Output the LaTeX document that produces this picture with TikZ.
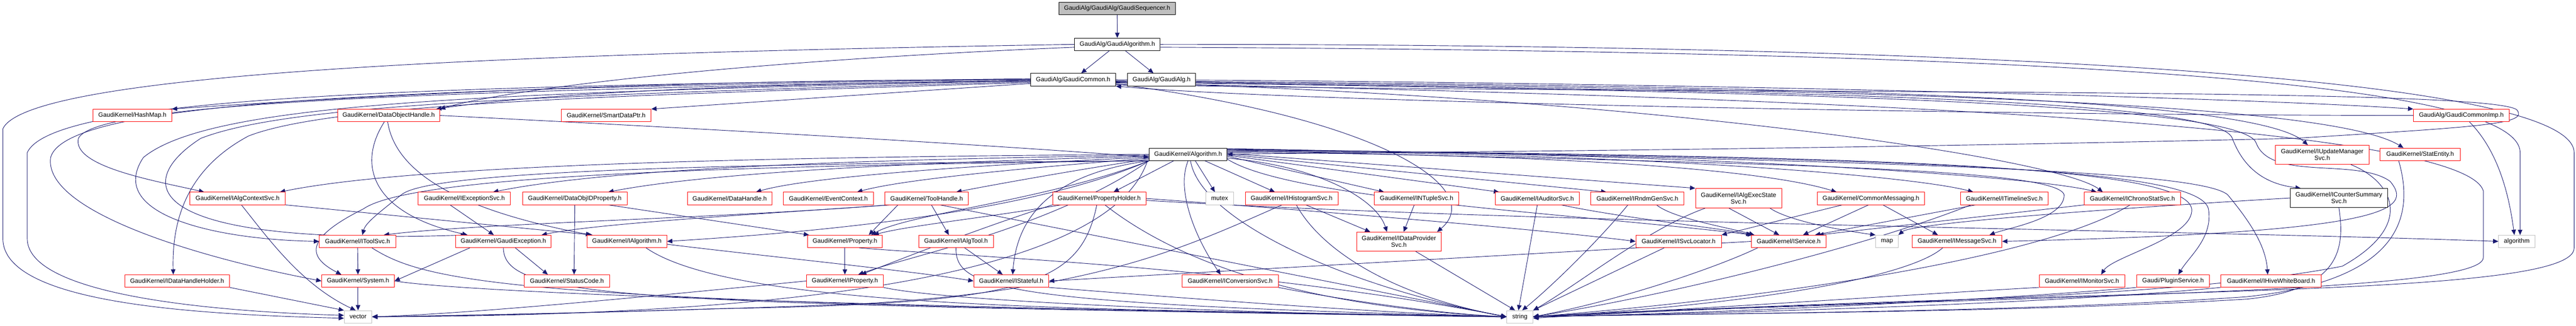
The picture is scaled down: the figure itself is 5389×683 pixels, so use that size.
\documentclass[tikz,border=0pt]{standalone}
\usepackage{fontspec}
\setmainfont{Liberation Sans}
\usetikzlibrary{arrows.meta,backgrounds}
\definecolor{edgeblue}{HTML}{191970}
\definecolor{sysgray}{HTML}{BFBFBF}
\tikzset{
  box/.style={rectangle, fill=white, inner sep=0pt, minimum height=26pt, line width=1pt,
    align=center, font=\fontsize{13}{14}\selectfont},
  hdr/.style={box, draw=red},
  doc/.style={box, draw=black},
  sys/.style={box, draw=sysgray},
  edge/.style={draw=edgeblue, line width=1pt, -{Triangle[length=11pt,width=9.5pt]}}
}
\begin{document}
\begin{tikzpicture}[x=1pt,y=-1pt]
    \useasboundingbox (0,0) rectangle (5389,683);

    % top of the include chain
    \node[doc, fill=sysgray, minimum width=243pt] (seq) at (2337,18) {GaudiAlg/GaudiAlg/GaudiSequencer.h};
    \node[doc, minimum width=179pt] (galgo) at (2337.5,93) {GaudiAlg/GaudiAlgorithm.h};
    \node[doc, minimum width=178pt] (gcommon) at (2245,167) {GaudiAlg/GaudiCommon.h};
    \node[doc, minimum width=143pt] (galg) at (2430,167) {GaudiAlg/GaudiAlg.h};
    \node[doc, minimum width=163pt] (algorithm) at (2485.5,323.5) {GaudiKernel/Algorithm.h};

    % second row
    \node[hdr, minimum width=164pt] (hashmap) at (277,242) {GaudiKernel/HashMap.h};
    \node[hdr, minimum width=214pt] (dohandle) at (813,242) {GaudiKernel/DataObjectHandle.h};
    \node[hdr, minimum width=188pt] (smartptr) at (1268,242) {GaudiKernel/SmartDataPtr.h};
    \node[hdr, minimum width=200pt] (gcimp) at (5149,242) {GaudiAlg/GaudiCommonImp.h};
    \node[hdr, minimum width=196pt, minimum height=40pt] (iupdate) at (4858,324.5) {GaudiKernel/IUpdateManager\\Svc.h};
    \node[hdr, minimum width=168pt] (statentity) at (5063,323.5) {GaudiKernel/StatEntity.h};

    % third row
    \node[hdr, minimum width=200pt] (ialgctx) at (497,416) {GaudiKernel/IAlgContextSvc.h};
    \node[hdr, minimum width=193pt] (iexc) at (971.5,416) {GaudiKernel/IExceptionSvc.h};
    \node[hdr, minimum width=219pt] (dataobjid) at (1202.5,416) {GaudiKernel/DataObjIDProperty.h};
    \node[hdr, minimum width=177pt] (datahandle) at (1526.5,416) {GaudiKernel/DataHandle.h};
    \node[hdr, minimum width=188pt] (eventctx) at (1733,416) {GaudiKernel/EventContext.h};
    \node[hdr, minimum width=175pt] (toolhandle) at (1938.5,416) {GaudiKernel/ToolHandle.h};
    \node[hdr, minimum width=195pt] (propholder) at (2299.5,416) {GaudiKernel/PropertyHolder.h};
    \node[sys, minimum width=59pt] (mutex) at (2551.5,416) {mutex};
    \node[hdr, minimum width=194pt] (ihisto) at (2702,416) {GaudiKernel/IHistogramSvc.h};
    \node[hdr, minimum width=177pt] (intuple) at (2963.5,416) {GaudiKernel/INTupleSvc.h};
    \node[hdr, minimum width=176pt] (iauditor) at (3216,416) {GaudiKernel/IAuditorSvc.h};
    \node[hdr, minimum width=195pt] (irndm) at (3425.5,416) {GaudiKernel/IRndmGenSvc.h};
    \node[hdr, minimum width=180pt, minimum height=41pt] (iexecstate) at (3637,415.5) {GaudiKernel/IAlgExecState\\Svc.h};
    \node[hdr, minimum width=224pt] (commonmsg) at (3914,416) {GaudiKernel/CommonMessaging.h};
    \node[hdr, minimum width=184pt] (itimeline) at (4193,416) {GaudiKernel/ITimelineSvc.h};
    \node[hdr, minimum width=201pt] (ichrono) at (4461,416) {GaudiKernel/IChronoStatSvc.h};
    \node[doc, minimum width=204pt, minimum height=40pt] (icounter) at (4893,415) {GaudiKernel/ICounterSummary\\Svc.h};

    % fourth row
    \node[hdr, minimum width=160pt] (itoolsvc) at (748,506) {GaudiKernel/IToolSvc.h};
    \node[hdr, minimum width=200pt] (gexc) at (1053,506) {GaudiKernel/GaudiException.h};
    \node[hdr, minimum width=167pt] (ialgorithm) at (1311.5,506) {GaudiKernel/IAlgorithm.h};
    \node[hdr, minimum width=157pt] (property) at (1767.5,506) {GaudiKernel/Property.h};
    \node[hdr, minimum width=156pt] (ialgtool) at (2000,506) {GaudiKernel/IAlgTool.h};
    \node[hdr, minimum width=177pt, minimum height=40pt] (idataprov) at (2926.5,506.5) {GaudiKernel/IDataProvider\\Svc.h};
    \node[hdr, minimum width=179pt] (isvcloc) at (3511.5,506) {GaudiKernel/ISvcLocator.h};
    \node[hdr, minimum width=156pt] (iservice) at (3742,506) {GaudiKernel/IService.h};
    \node[sys, minimum width=47pt] (map) at (3947.5,506) {map};
    \node[hdr, minimum width=188pt] (imsgsvc) at (4094,506) {GaudiKernel/IMessageSvc.h};
    \node[sys, minimum width=76pt] (algo) at (5265,506) {algorithm};

    % fifth row
    \node[hdr, minimum width=219pt] (idhholder) at (370.5,589) {GaudiKernel/IDataHandleHolder.h};
    \node[hdr, minimum width=152pt] (system) at (749,589) {GaudiKernel/System.h};
    \node[hdr, minimum width=178pt] (statuscode) at (1186,589) {GaudiKernel/StatusCode.h};
    \node[hdr, minimum width=161pt] (iproperty) at (1767.5,589) {GaudiKernel/IProperty.h};
    \node[hdr, minimum width=157pt] (istateful) at (2115.5,589) {GaudiKernel/IStateful.h};
    \node[hdr, minimum width=201pt] (iconv) at (2573.5,589) {GaudiKernel/IConversionSvc.h};
    \node[hdr, minimum width=179pt] (imonitor) at (4355.5,589) {GaudiKernel/IMonitorSvc.h};
    \node[hdr, minimum width=152pt] (plugin) at (4546,589) {Gaudi/PluginService.h};
    \node[hdr, minimum width=210pt] (ihive) at (4751,589) {GaudiKernel/IHiveWhiteBoard.h};

    % system headers
    \node[sys, minimum width=58pt] (vector) at (749,664) {vector};
    \node[sys, minimum width=55pt] (string) at (3179.5,664) {string};

    \begin{pgfonlayer}{background}
    \fill[white] (0,0) rectangle (5389,683);

    % GaudiSequencer / GaudiAlgorithm
    \draw[edge] (seq) -- (galgo);
    \draw[edge] (galgo) -- (gcommon);
    \draw[edge] (galgo) -- (galg);
    \draw[edge] (galgo.west) .. controls (1100,112) and (60,150) .. (6,270) -- (6,500) .. controls (6,635) and (400,659) .. ([yshift=-3pt]vector.west);
    \draw[edge] ([yshift=-6pt]galgo.west) .. controls (1500,130) and (1050,190) .. (dohandle.north east);
    \draw[edge] (galgo.east) .. controls (3800,92) and (5385,140) .. (5385,320) -- (5385,520) .. controls (5385,630) and (4300,600) .. ([yshift=-3pt]string.east);
    \draw[edge] ([yshift=-6pt]galgo.east) .. controls (4300,108) and (5272,170) .. (5272,320) -- ([xshift=7pt]algo.north);

    % GaudiCommon, to the left
    \draw[edge] (gcommon.west) .. controls (1400,165) and (700,205) .. (hashmap.north east);
    \draw[edge] ([yshift=-3pt]gcommon.west) .. controls (1500,175) and (1100,200) .. ([xshift=-8pt]dohandle.north east);
    \draw[edge] ([yshift=-8pt]gcommon.west) -- (smartptr.north east);
    \draw[edge] ([yshift=2pt]gcommon.west) .. controls (900,180) and (110,200) .. (57,320) -- (57,500) .. controls (57,615) and (420,652) .. ([yshift=3pt]vector.west);
    \draw[edge] ([yshift=1pt]gcommon.west) .. controls (900,185) and (140,205) .. (106,330) .. controls (90,440) and (400,537) .. (system.west);
    \draw[edge] ([yshift=-1pt]gcommon.west) .. controls (900,190) and (200,215) .. (164,290) .. controls (150,350) and (330,380) .. ([xshift=-70pt]ialgctx.north);
    \draw[edge] ([yshift=-2pt]gcommon.west) .. controls (1000,195) and (440,215) .. (300,330) .. controls (220,450) and (450,502) .. (itoolsvc.west);
    \draw[edge] ([yshift=-4pt]gcommon.west) .. controls (1100,200) and (600,220) .. (420,290) .. controls (280,380) and (280,517) .. ([xshift=-78pt]gexc.north);
    \draw[edge] ([yshift=-6pt]gcommon.west) .. controls (1300,200) and (700,215) .. (520,285) .. controls (380,360) and (360,477) .. ([xshift=-8pt]idhholder.north);

    % GaudiCommon, to the right
    \draw[edge] (gcommon.east) .. controls (3500,172) and (4700,205) .. (gcimp.north west);
    \draw[edge] ([yshift=-2pt]gcommon.east) .. controls (3500,180) and (4700,190) .. ([xshift=-30pt]iupdate.north);
    \draw[edge] ([yshift=-3pt]gcommon.east) .. controls (3600,185) and (4850,200) .. ([xshift=-35pt]statentity.north);
    \draw[edge] ([yshift=-4pt]gcommon.east) .. controls (3600,190) and (4640,200) .. (4670,290) .. controls (4700,370) and (4760,388) .. ([xshift=-80pt]icounter.north);
    \draw[edge] ([yshift=-5pt]gcommon.east) .. controls (3600,190) and (4690,210) .. (4720,300) .. controls (4750,380) and (4930,330) .. (5000,380) .. controls (5050,440) and (5000,487) .. (imsgsvc.east);
    \draw[edge] ([yshift=-6pt]gcommon.east) .. controls (3400,200) and (4300,328) .. ([xshift=-62pt]ichrono.north);
    \draw[edge] ([yshift=-7pt]gcommon.east) .. controls (3600,200) and (5150,250) .. (5195,400) -- (5195,540) .. controls (5195,618) and (4200,618) .. (string.east);
    \draw[edge] ([yshift=-9pt]gcommon.east) .. controls (2900,250) and (3110,398) .. ([xshift=80pt]idataprov.north);
    \draw[edge] ([yshift=-10pt]gcommon.east) .. controls (3500,200) and (5200,180) .. (5265,230) .. controls (5290,260) and (5200,265) .. (4800,290) .. controls (3600,318) and (2700,320) .. (algorithm.east);

    % GaudiCommonImp, IUpdateManagerSvc, StatEntity, ICounterSummarySvc
    \draw[edge] ([xshift=17pt]gcimp.south) .. controls (5230,320) and (5250,418) .. ([xshift=-5pt]algo.north);
    \draw[edge] (gcimp.west) .. controls (4200,242) and (2700,214) .. (gcommon.south east);
    \draw[edge] ([xshift=60pt]iupdate.south) .. controls (5000,378) and (5060,468) .. (4900,558) .. controls (4500,637) and (3600,637) .. (string.east);
    \draw[edge] ([xshift=-45pt]statentity.south) .. controls (5050,448) and (5030,587) .. (4700,622) .. controls (4200,657) and (3500,657) .. (string.east);
    \draw[edge] (icounter.south) .. controls (4905,518) and (4900,607) .. (4700,627) .. controls (4200,657) and (3500,657) .. (string.east);
    \draw[edge] (icounter.west) .. controls (4400,438) and (4000,468) .. (map.north east);

    % Algorithm, to the left
    \draw[edge] (algorithm.west) .. controls (1800,328) and (900,338) .. ([xshift=-12pt]ialgctx.north east);
    \draw[edge] ([yshift=-2pt]algorithm.west) .. controls (1900,333) and (1300,348) .. ([xshift=60pt]iexc.north);
    \draw[edge] ([yshift=-4pt]algorithm.west) .. controls (2000,338) and (1500,358) .. ([xshift=70pt]dataobjid.north);
    \draw[edge] ([yshift=-6pt]algorithm.west) .. controls (2100,343) and (1700,368) .. ([xshift=55pt]datahandle.north);
    \draw[edge] ([yshift=-8pt]algorithm.west) .. controls (2200,348) and (1900,373) .. ([xshift=60pt]eventctx.north);
    \draw[edge] ([yshift=-10pt]algorithm.west) .. controls (2300,348) and (2100,383) .. ([xshift=62pt]toolhandle.north);
    \draw[edge] (algorithm.south west) .. controls (1500,343) and (900,358) .. (840,408) .. controls (790,448) and (765,467) .. ([xshift=10pt]itoolsvc.north);
    \draw[edge] (algorithm.south west) .. controls (1500,348) and (860,368) .. (760,438) .. controls (640,498) and (640,537) .. ([xshift=-35pt]system.north);
    \draw[edge] (algorithm.south west) .. controls (2150,448) and (1700,487) .. (ialgorithm.east);
    \draw[edge] (algorithm.south west) .. controls (2200,418) and (1900,448) .. ([xshift=55pt]property.north);
    \draw[edge] (algorithm.south west) .. controls (2200,478) and (1900,537) .. ([xshift=28pt]iproperty.north);
    \draw[edge] (algorithm.south west) .. controls (2250,358) and (2130,418) .. ([xshift=3pt]istateful.north);
    \draw[edge] ([xshift=-30pt]algorithm.south) -- ([xshift=30pt]propholder.north);
    \draw[edge] ([xshift=-3pt]algorithm.south west) .. controls (2300,637) and (1300,662) .. (vector.east);

    % Algorithm, downwards and to the right
    \draw[edge] ([xshift=15pt]algorithm.south) -- ([xshift=-10pt]mutex.north);
    \draw[edge] ([xshift=35pt]algorithm.south) -- ([xshift=-35pt]ihisto.north);
    \draw[edge] (algorithm.south) .. controls (2460,398) and (2500,498) .. ([xshift=-20pt]iconv.north);
    \draw[edge] ([xshift=5pt]algorithm.south) .. controls (2510,458) and (2800,597) .. (string.west);
    \draw[edge] ([yshift=-4pt]algorithm.east) -- ([xshift=-68pt]intuple.north);
    \draw[edge] ([yshift=-2pt]algorithm.east) -- ([xshift=-80pt]iauditor.north);
    \draw[edge] (algorithm.east) -- ([xshift=-65pt]irndm.north);
    \draw[edge] ([yshift=2pt]algorithm.east) -- (iexecstate.north west);
    \draw[edge] ([yshift=4pt]algorithm.east) .. controls (3300,323) and (3700,358) .. ([xshift=-72pt]commonmsg.north);
    \draw[edge] ([yshift=6pt]algorithm.east) .. controls (3400,318) and (4000,368) .. ([xshift=-65pt]itimeline.north);
    \draw[edge] ([yshift=8pt]algorithm.east) .. controls (3500,318) and (4250,368) .. ([xshift=-75pt]ichrono.north);
    \draw[edge] ([yshift=-8pt]algorithm.east) .. controls (2760,348) and (2880,418) .. ([xshift=-25pt]idataprov.north);
    \draw[edge] ([yshift=-10pt]algorithm.east) .. controls (2700,418) and (3300,448) .. ([xshift=-75pt]iservice.north);
    \draw[edge] ([yshift=9pt]algorithm.east) .. controls (3600,343) and (4300,348) .. (4318,408) .. controls (4320,458) and (4200,478) .. ([xshift=68pt]imsgsvc.north);
    \draw[edge] ([yshift=10pt]algorithm.east) .. controls (3800,328) and (4570,338) .. (4585,438) .. controls (4590,498) and (4420,537) .. ([xshift=40pt]imonitor.north);
    \draw[edge] ([yshift=11pt]algorithm.east) .. controls (3900,333) and (4600,343) .. (4620,438) .. controls (4630,498) and (4580,537) .. ([xshift=11pt]plugin.north);
    \draw[edge] ([yshift=12pt]algorithm.east) .. controls (4000,338) and (4600,358) .. (4660,408) .. controls (4710,468) and (4740,517) .. ([xshift=-7pt]ihive.north);

    % DataObjectHandle
    \draw[edge] (dohandle.east) .. controls (1300,261) and (2000,298) .. ([yshift=-6pt]algorithm.west);
    \draw[edge] ([xshift=-9pt]dohandle.south) .. controls (745,348) and (780,448) .. ([xshift=-75pt]gexc.north);
    \draw[edge] ([xshift=-2pt]dohandle.south) .. controls (830,378) and (1000,448) .. ([xshift=-75pt]ialgorithm.north);

    % third row, left part
    \draw[edge] ([xshift=8pt]ialgctx.south) .. controls (560,498) and (630,597) .. ([xshift=-5pt]vector.north);
    \draw[edge] (ialgctx.south east) -- ([xshift=-72pt]ialgorithm.north);
    \draw[edge] ([xshift=-30pt]iexc.south) -- ([xshift=-20pt]gexc.north);
    \draw[edge] (dataobjid.south) -- ([xshift=15pt]statuscode.north);
    \draw[edge] ([xshift=70pt]dataobjid.south) -- ([xshift=-75pt]property.north);
    \draw[edge] ([xshift=10pt]toolhandle.south) -- ([xshift=-15pt]ialgtool.north);
    \draw[edge] ([xshift=-60pt]toolhandle.south) -- ([xshift=50pt]property.north);
    \draw[edge] ([xshift=-80pt]toolhandle.south) .. controls (1500,458) and (1000,468) .. ([xshift=55pt]itoolsvc.north);
    \draw[edge] ([xshift=-75pt]toolhandle.south) .. controls (1600,448) and (1250,468) .. ([xshift=80pt]gexc.north);
    \draw[edge] ([xshift=28pt]toolhandle.south) -- (string.west);
    \draw[edge] ([xshift=-80pt]propholder.south) .. controls (2050,458) and (1900,473) .. ([xshift=60pt]property.north);
    \draw[edge] (propholder.south west) .. controls (2050,478) and (1900,537) .. ([xshift=34pt]iproperty.north);
    \draw[edge] ([xshift=-5pt]propholder.south) .. controls (2260,597) and (2150,637) .. (1500,647) .. controls (1200,657) and (900,662) .. (vector.east);
    \draw[edge] ([xshift=12pt]propholder.south) .. controls (2500,577) and (2800,647) .. (string.west);
    \draw[edge] (propholder.east) .. controls (2700,438) and (3200,478) .. (isvcloc.west);
    \draw[edge] ([yshift=-4pt]propholder.east) .. controls (3200,468) and (4600,483) .. (algo.west);

    % third row, right part
    \draw[edge] ([xshift=30pt]ihisto.south) -- ([xshift=-60pt]idataprov.north);
    \draw[edge] ([xshift=10pt]ihisto.south) .. controls (2760,518) and (2900,617) .. (string.west);
    \draw[edge] ([xshift=-20pt]ihisto.south) .. controls (2480,518) and (2300,607) .. (1800,637) .. controls (1400,652) and (1000,662) .. (vector.east);
    \draw[edge] ([xshift=-5pt]intuple.south) -- ([xshift=10pt]idataprov.north);
    \draw[edge] (iauditor.south) -- ([xshift=-3pt]string.north);
    \draw[edge] ([xshift=50pt]iauditor.south) .. controls (3400,458) and (3600,478) .. ([xshift=-78pt]iservice.north);
    \draw[edge] ([xshift=-20pt]irndm.south) .. controls (3350,498) and (3250,597) .. ([xshift=5pt]string.north);
    \draw[edge] ([xshift=40pt]irndm.south) .. controls (3500,458) and (3620,478) .. ([xshift=-72pt]iservice.north);
    \draw[edge] ([xshift=-70pt]iexecstate.south) .. controls (3450,478) and (3300,597) .. (string.north east);
    \draw[edge] ([xshift=66pt]iexecstate.south) .. controls (3750,468) and (3890,488) .. (map.north west);
    \draw[edge] ([xshift=-20pt]iexecstate.south) -- ([xshift=-20pt]iservice.north);
    \draw[edge] ([xshift=-5pt]commonmsg.south) -- ([xshift=30pt]iservice.north);
    \draw[edge] ([xshift=25pt]commonmsg.south) -- ([xshift=-40pt]imsgsvc.north);
    \draw[edge] ([xshift=-60pt]commonmsg.south) -- (isvcloc.north east);
    \draw[edge] ([xshift=-60pt]itimeline.south) -- ([xshift=55pt]iservice.north);
    \draw[edge] ([xshift=-70pt]itimeline.south) .. controls (3900,518) and (3500,617) .. (string.east);
    \draw[edge] (ichrono.south west) -- ([xshift=62pt]iservice.north);
    \draw[edge] ([xshift=-5pt]ichrono.south) .. controls (4300,528) and (3800,617) .. (string.east);

    % fourth row
    \draw[edge] (itoolsvc) -- (system);
    \draw[edge] ([xshift=30pt]itoolsvc.south) .. controls (900,597) and (1100,637) .. (string.west);
    \draw[edge] ([xshift=25pt]gexc.south) -- ([xshift=-40pt]statuscode.north);
    \draw[edge] ([xshift=-70pt]gexc.south) -- (system.east);
    \draw[edge] (gexc.south) .. controls (1055,627) and (1300,637) .. (string.west);
    \draw[edge] ([yshift=-6pt]ialgorithm.east) .. controls (1600,537) and (1900,567) .. (istateful.west);
    \draw[edge] ([xshift=40pt]ialgorithm.south) .. controls (1550,657) and (2400,647) .. (string.west);
    \draw[edge] (property) -- (iproperty);
    \draw[edge] ([xshift=30pt]property.south) .. controls (2000,537) and (2600,557) .. (string.west);
    \draw[edge] ([xshift=18pt]ialgtool.south) -- ([xshift=-18pt]istateful.north);
    \draw[edge] (ialgtool.south) .. controls (1998,607) and (2100,637) .. (string.west);
    \draw[edge] ([xshift=35pt]idataprov.south) -- ([xshift=-10pt]string.north);
    \draw[edge] ([xshift=-30pt]isvcloc.south) -- (string.north east);
    \draw[edge] (iservice.west) -- (istateful.east);
    \draw[edge] ([xshift=-65pt]iservice.south) .. controls (3600,557) and (3400,627) .. (string.east);
    \draw[edge] ([xshift=-30pt]imsgsvc.south) .. controls (4000,577) and (3700,637) .. (string.east);

    % fifth row
    \draw[edge] (idhholder.south east) -- (vector.north west);
    \draw[edge] (system) -- (vector);
    \draw[edge] (system.east) .. controls (1000,617) and (2000,647) .. (string.west);
    \draw[edge] (iproperty.west) .. controls (1400,617) and (1000,657) .. (vector.east);
    \draw[edge] (iproperty.south east) .. controls (2000,637) and (2800,662) .. (string.west);
    \draw[edge] (istateful.south east) .. controls (2500,627) and (2900,657) .. (string.west);
    \draw[edge] (iconv.south east) .. controls (2800,627) and (3000,657) .. (string.west);
    \draw[edge] (imonitor.south west) .. controls (4000,617) and (3500,652) .. (string.east);
    \draw[edge] (plugin.south west) .. controls (4200,627) and (3600,657) .. (string.east);
    \draw[edge] (ihive.south west) .. controls (4300,637) and (3600,657) .. (string.east);
    \end{pgfonlayer}
\end{tikzpicture}
\end{document}
